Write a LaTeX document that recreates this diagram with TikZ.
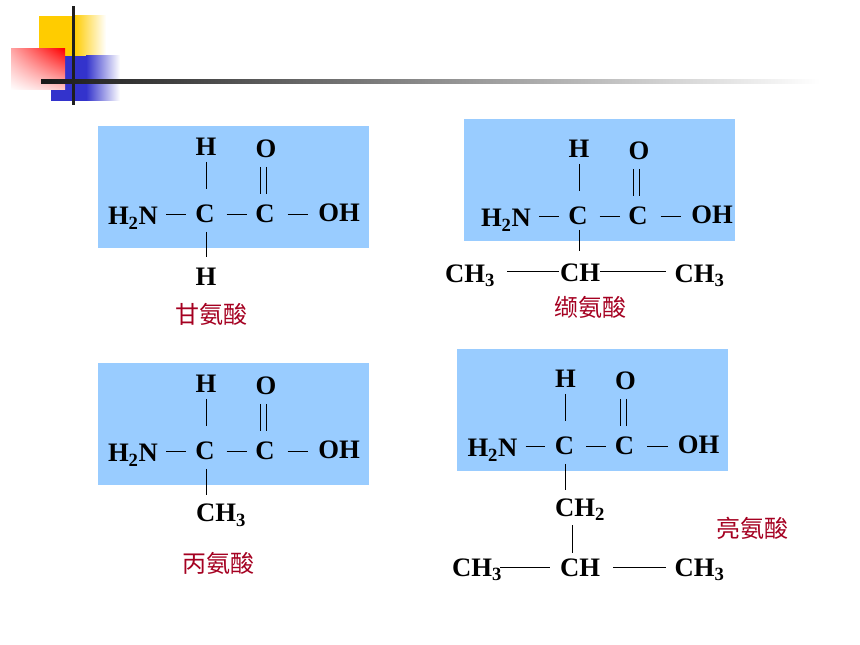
\documentclass[tikz,border=0pt]{standalone}
\usepackage{fontspec}
\setmainfont{Liberation Serif}
\newfontfamily\cjk{Noto Sans CJK SC}
\usetikzlibrary{calc,shadings}
\definecolor{boxblue}{HTML}{99CCFF}
\definecolor{namered}{HTML}{A50021}
\definecolor{decoyellow}{HTML}{FFCC00}
\definecolor{decoblue}{HTML}{3333CC}
\tikzset{
  atom/.style={inner sep=0pt,outer sep=0pt,text height=13.3pt,text depth=0pt,font=\fontsize{20}{20}\selectfont\bfseries},
  panel/.style={fill=boxblue,draw=none},
  bond/.style={draw=black,line width=0.75pt},
  aminoname/.style={inner sep=0pt,text=namered,font=\cjk\fontsize{18}{18}\selectfont},
}
% core of an amino acid: #1 prefix, #2,#3 offset of text
\newcommand{\corepart}[3]{%
  \begin{scope}[shift={(#2,#3)}]
    \node[atom] (#1H) at (206,146.5) {H};
    \node[atom] (#1O) at (266,148.5) {O};
    \node[atom] (#1N) at (133,216) {H\textsubscript{2}N};
    \node[atom] (#1Ca) at (205,214) {C};
    \node[atom] (#1Cb) at (265,214) {C};
    \node[atom] (#1OH) at (339,213) {OH};
    \draw[bond] ($(#1N.east |- #1Ca)+(8,0.5)$) -- ($(#1Ca.west)+(-9.4,0.5)$);
    \draw[bond] ($(#1Ca.east)+(12,0.5)$) -- ($(#1Cb.west)+(-8.7,0.5)$);
    \draw[bond] ($(#1Cb.east)+(13,0.5)$) -- ($(#1OH.west |- #1Cb)+(-10,0.5)$);
    \draw[bond] ($(#1H.south -| #1Ca)+(1.2,6.5)$) -- ($(#1Ca.north)+(1.2,-16)$);
    \draw[bond] ($(#1O.south -| #1Cb)+(-4.3,9.5)$) -- ($(#1Cb.north)+(-4.3,-11)$);
    \draw[bond] ($(#1O.south -| #1Cb)+(1.7,9.5)$) -- ($(#1Cb.north)+(1.7,-11)$);
  \end{scope}}
\begin{document}
\begin{tikzpicture}[x=0.75pt,y=-0.75pt]
\useasboundingbox (0,0) rectangle (860,645);
\fill[white] (0,0) rectangle (860,645);
% decoration
\fill[decoyellow] (39,16) rectangle (74,56);
\shade[left color=decoyellow,right color=white] (74,16) rectangle (106,56);
\fill[decoblue] (51,56) rectangle (86,101);
\shade[left color=decoblue,right color=white] (86,56) rectangle (120,101);
\shade[lower left=white,upper right=red,upper left=red!35!white,lower right=red!20!white] (11,49) rectangle (65,90);
\fill[black!88] (71.5,6) rectangle (75,105);
\shade[left color=black!90,right color=white] (41,80) rectangle (820,84);
% panels
\fill[panel] (98,126) rectangle (369,248);
\fill[panel] (464,119) rectangle (735,241);
\fill[panel] (98,363) rectangle (369,485);
\fill[panel] (457,349) rectangle (728,471);
% glycine
\corepart{g}{0}{0}
\node[atom] (gH2) at (206,277) {H};
\draw[bond] ($(gCa.south)+(1.2,9)$) -- ($(gCa.south |- gH2.north)+(1.2,-11.5)$);
\node[aminoname] (gname) at (211,314) {甘氨酸};
% alanine
\corepart{a}{0}{237}
\node[atom] (aR) at (221,513) {CH\textsubscript{3}};
\draw[bond] ($(aCa.south)+(1.2,9)$) -- ($(aCa.south |- aR.north)+(1.2,-9)$);
\node[aminoname] (aname) at (218,563) {丙氨酸};
% valine
\corepart{v}{373}{2}
\node[atom] (vCH) at (580,273) {CH};
\node[atom] (vL) at (470,273.5) {CH\textsubscript{3}};
\node[atom] (vR) at (699.5,273.5) {CH\textsubscript{3}};
\draw[bond] ($(vCa.south)+(1,5)$) -- ($(vCa.south |- vCH.north)+(1,-13)$);
\draw[bond] ($(vL.east |- vCH)+(12,-1.3)$) -- ($(vCH.west)+(-1,-1.3)$);
\draw[bond] ($(vCH.east)+(0,-1.3)$) -- ($(vR.west |- vCH)+(-9,-1.3)$);
\node[aminoname] (vname) at (590,307) {缬氨酸};
% leucine
\corepart{l}{359.5}{232}
\node[atom] (lCH2) at (580,507.5) {CH\textsubscript{2}};
\node[atom] (lCH) at (580,567.5) {CH};
\node[atom] (lL) at (477,567.5) {CH\textsubscript{3}};
\node[atom] (lR) at (699.5,567.5) {CH\textsubscript{3}};
\draw[bond] ($(lCa.south)+(1,9)$) -- ($(lCa.south |- lCH2.north)+(1,-9)$);
\draw[bond] ($(lCH2.south -| lCH)+(-7.7,9)$) -- ($(lCH.north)+(-7.7,-6)$);
\draw[bond] ($(lL.east |- lCH)+(-2,0)$) -- ($(lCH.west)+(-10,0)$);
\draw[bond] ($(lCH.east)+(13,0)$) -- ($(lR.west |- lCH)+(-9,0)$);
\node[aminoname] (lname) at (752,528) {亮氨酸};
\end{tikzpicture}
\end{document}
